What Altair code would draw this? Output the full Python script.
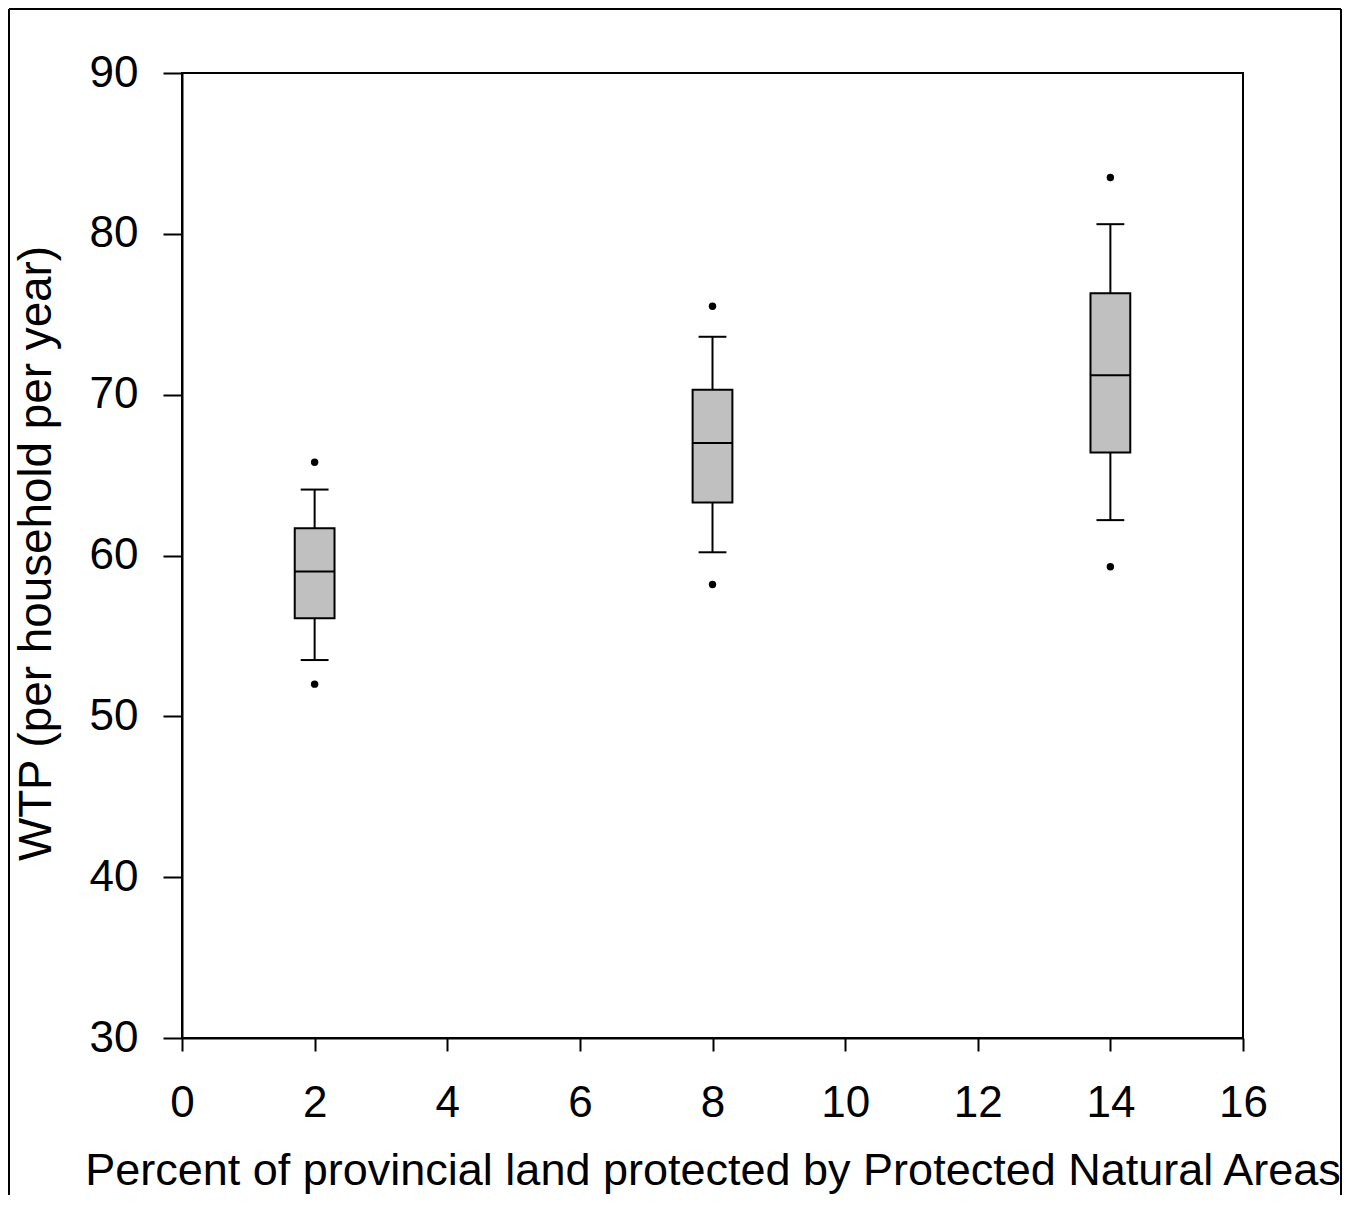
import altair as alt
import pandas as pd

# Data
x_pct = [2, 8, 14]
whisker_low = [53.5, 60.2, 62.2]
q1 = [56.1, 63.3, 66.4]
median = [59.0, 67.0, 71.2]
q3 = [61.7, 70.3, 76.3]
whisker_high = [64.1, 73.6, 80.6]
outlier_low = [52.0, 58.2, 59.3]
outlier_high = [65.8, 75.5, 83.5]

x_ticks = [0, 2, 4, 6, 8, 10, 12, 14, 16]
y_ticks = [30, 40, 50, 60, 70, 80, 90]

boxes = pd.DataFrame({
    "x": x_pct,
    "wlo": whisker_low,
    "q1": q1,
    "med": median,
    "q3": q3,
    "whi": whisker_high,
})
outliers = pd.DataFrame({
    "x": x_pct + x_pct,
    "y": outlier_low + outlier_high,
})

FONT = "Liberation Sans"
BOX_HALF = 0.3
CAP_HALF = 0.21

xscale = alt.Scale(domain=[0, 16], nice=False, zero=False)
yscale = alt.Scale(domain=[30, 90], nice=False, zero=False)

x_axis = alt.Axis(
    values=x_ticks, format="d", labelFlush=False,
    title="Percent of provincial land protected by Protected Natural Areas",
    grid=False, tickSize=13, tickWidth=2, tickColor="black",
    domainColor="black", domainWidth=2,
    labelFontSize=44, labelFont=FONT, labelColor="black", labelPadding=30,
    titleFontSize=45, titleFont=FONT, titleColor="black", titleFontWeight="normal",
    titleBaseline="alphabetic", titleY=146,
)
y_axis = alt.Axis(
    values=y_ticks, format="d", labelFlush=False,
    title="WTP (per household per year)",
    grid=False, tickSize=19, tickWidth=2, tickColor="black",
    domainColor="black", domainWidth=2,
    labelFontSize=44, labelFont=FONT, labelColor="black", labelPadding=25,
    titleFontSize=45.8, titleFont=FONT, titleColor="black", titleFontWeight="normal",
    titleBaseline="alphabetic", titleX=-132, titleY=480, titleAngle=-90,
)

base = alt.Chart(boxes).transform_calculate(
    blo=f"datum.x - {BOX_HALF}", bhi=f"datum.x + {BOX_HALF}",
    clo=f"datum.x - {CAP_HALF}", chi=f"datum.x + {CAP_HALF}",
)

whisker = base.mark_rule(color="black", strokeWidth=2).encode(
    x=alt.X("x:Q", scale=xscale, axis=x_axis),
    y=alt.Y("wlo:Q", scale=yscale, axis=y_axis),
    y2="whi:Q",
)
cap_lo = base.mark_rule(color="black", strokeWidth=2).encode(
    x=alt.X("clo:Q", scale=xscale), x2="chi:Q", y=alt.Y("wlo:Q", scale=yscale)
)
cap_hi = base.mark_rule(color="black", strokeWidth=2).encode(
    x=alt.X("clo:Q", scale=xscale), x2="chi:Q", y=alt.Y("whi:Q", scale=yscale)
)
box = base.mark_rect(fill="#C0C0C0", stroke="black", strokeWidth=2).encode(
    x=alt.X("blo:Q", scale=xscale), x2="bhi:Q",
    y=alt.Y("q1:Q", scale=yscale), y2="q3:Q",
)
med = base.mark_rule(color="black", strokeWidth=2).encode(
    x=alt.X("blo:Q", scale=xscale), x2="bhi:Q", y=alt.Y("med:Q", scale=yscale)
)
pts = alt.Chart(outliers).mark_circle(color="black", opacity=1, size=55).encode(
    x=alt.X("x:Q", scale=xscale), y=alt.Y("y:Q", scale=yscale)
)

# Outer picture frame (decoration)
frame_data = alt.Data(values=[{"k": 0}])
frame_left = alt.Chart(frame_data).mark_rule(color="black", strokeWidth=2).encode(
    x=alt.value(-173), y=alt.value(-64), y2=alt.value(1130)
)
frame_right = alt.Chart(frame_data).mark_rule(color="black", strokeWidth=2).encode(
    x=alt.value(1159), y=alt.value(-64), y2=alt.value(1130)
)
frame_top = alt.Chart(frame_data).mark_rule(color="black", strokeWidth=2).encode(
    x=alt.value(-173), x2=alt.value(1159), y=alt.value(-64)
)

chart = alt.layer(
    whisker, cap_lo, cap_hi, box, med, pts, frame_left, frame_right, frame_top
).properties(
    width=1061, height=965,
    autosize=alt.AutoSizeParams(type="none"),
    padding={"left": 174, "top": 65, "right": 100, "bottom": 157},
    background="white",
).configure_view(
    stroke="black", strokeWidth=2
)

chart.save("out.html", embed_options={"renderer": "svg", "actions": False})
